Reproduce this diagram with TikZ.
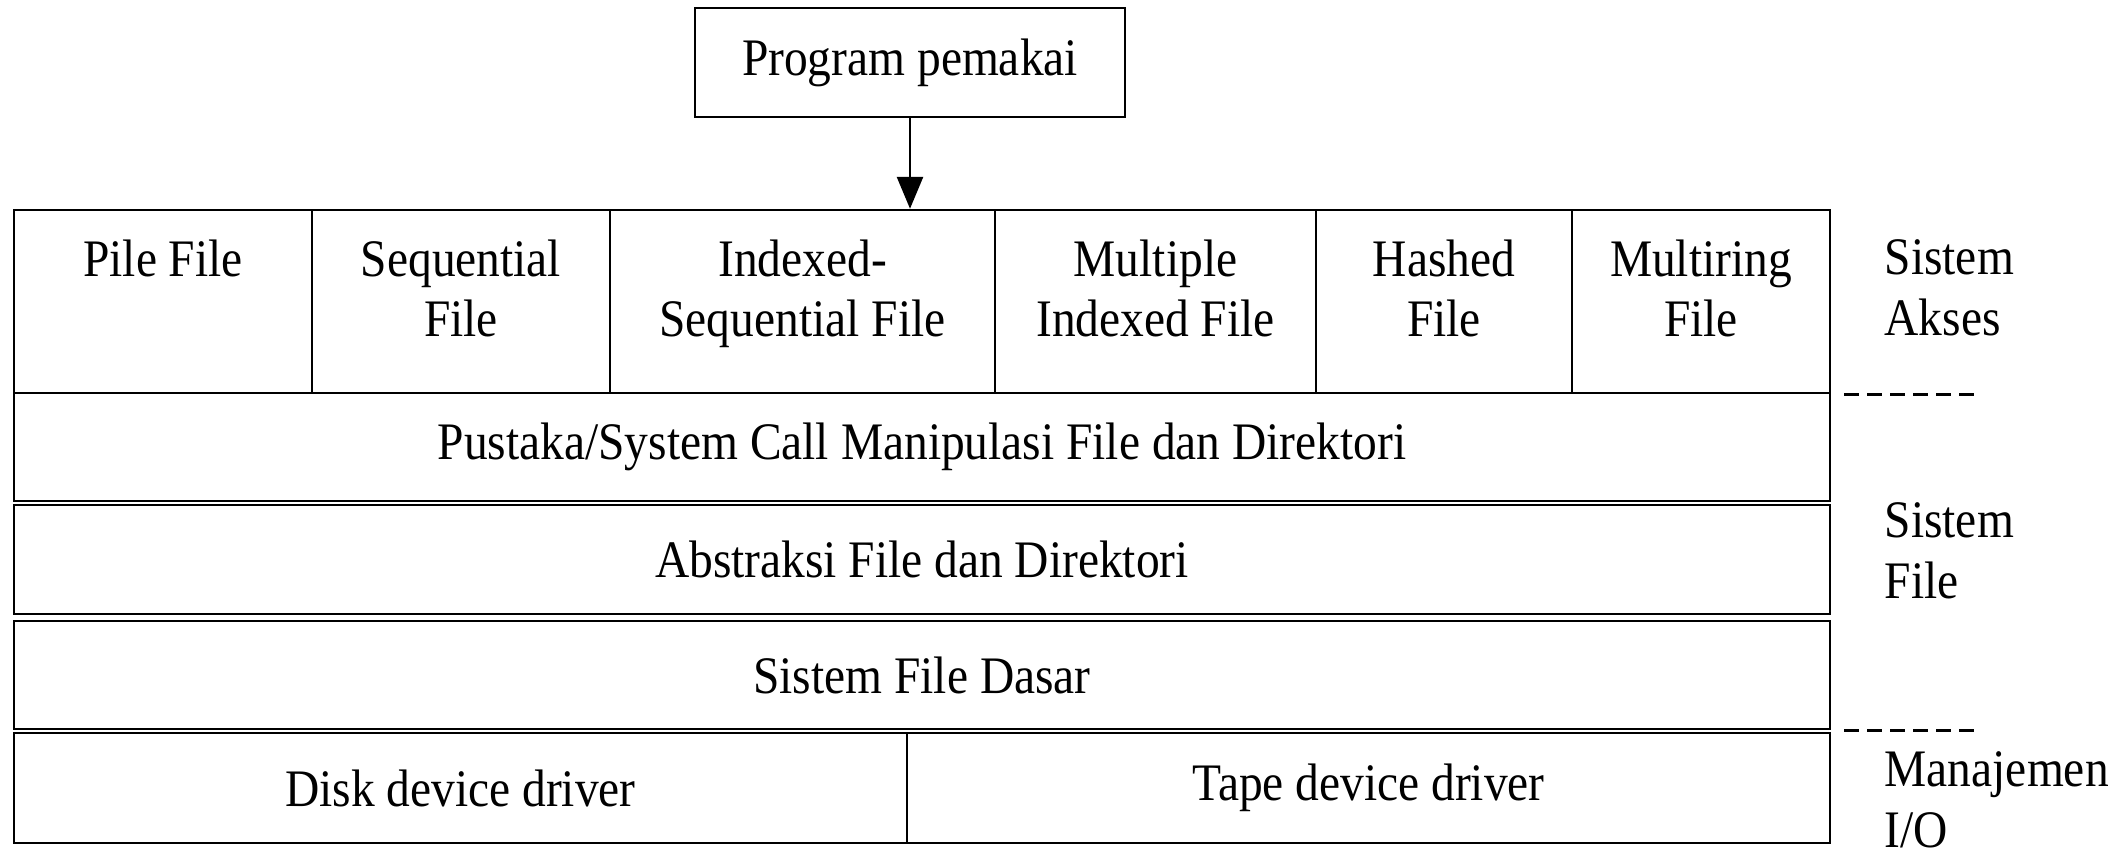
\documentclass[tikz,border=0pt]{standalone}
\usepackage{fontspec}
\setmainfont{Liberation Serif}[FakeStretch=0.9]
\usetikzlibrary{positioning,arrows.meta}

\begin{document}
\begin{tikzpicture}[
every node/.style={
align=center,
font=\fontsize{15}{17.3}\selectfont
},
layer/.style={draw, line width=0.7pt, minimum width=18.16cm, minimum height=1.08cm, inner sep=0pt},
cell/.style={draw, line width=0.7pt, minimum height=1.83cm, inner sep=0pt},
celltext/.style={inner sep=0pt},
side/.style={anchor=west, align=left, inner sep=0pt},
arrow/.style={-{Triangle[length=0.32cm,width=0.26cm]}, line width=0.8pt},
sep/.style={dash pattern=on 0.15cm off 0.08cm, line width=0.9pt}
]

\useasboundingbox (0,0) rectangle (21.25,-8.55);

% =====================================================
% User program
% =====================================================

\node (prog) [draw, line width=0.7pt, minimum width=4.30cm, minimum height=1.09cm, inner sep=0pt]
at (9.10,-0.625) {Program pemakai};

% =====================================================
% Access methods
% =====================================================

\node (pile) [cell, minimum width=2.98cm] at (1.63,-3.015) {};
\node (seq) [cell, minimum width=2.98cm] at (4.61,-3.015) {};
\node (idx) [cell, minimum width=3.85cm] at (8.025,-3.015) {};
\node (multi) [cell, minimum width=3.21cm] at (11.555,-3.015) {};
\node (hash) [cell, minimum width=2.56cm] at (14.44,-3.015) {};
\node (ring) [cell, minimum width=2.58cm] at (17.01,-3.015) {};

\node (pileT) [celltext, below=0.3cm of pile.north] {Pile File};
\node (seqT) [celltext, below=0.3cm of seq.north] {Sequential\\File};
\node (idxT) [celltext, below=0.3cm of idx.north] {Indexed-\\Sequential File};
\node (multiT) [celltext, below=0.3cm of multi.north] {Multiple\\Indexed File};
\node (hashT) [celltext, below=0.3cm of hash.north] {Hashed\\File};
\node (ringT) [celltext, below=0.3cm of ring.north] {Multiring\\File};

% =====================================================
% File system layers
% =====================================================

\node (lib) [layer] at (9.22,-4.47)
{Pustaka/System Call Manipulasi File dan Direktori};

\node (abs) [layer, minimum height=1.09cm] at (9.22,-5.595)
{Abstraksi File dan Direktori};

\node (base) [layer] at (9.22,-6.75)
{Sistem File Dasar};

\node (disk) [layer, minimum width=8.93cm, minimum height=1.10cm] at (4.605,-7.88)
{Disk device driver};

\node (tape) [layer, minimum width=9.23cm, minimum height=1.10cm] at (13.685,-7.88)
{Tape device driver};

% =====================================================
% Side labels
% =====================================================

\node (akses) [side] at (18.84,-2.875) {Sistem\\Akses};
\node (sisfile) [side] at (18.84,-5.51) {Sistem\\File};
\node (io) [side] at (18.84,-8.0) {Manajemen\\I/O};

\draw [sep] ([xshift=0.13cm]ring.south east) -- ++(1.36,0);
\draw [sep] ([xshift=0.13cm]base.south east) -- ++(1.36,0);

% =====================================================
% Arrows
% =====================================================

\draw [arrow] (prog) -- (prog |- idx.north);

\end{tikzpicture}
\end{document}
